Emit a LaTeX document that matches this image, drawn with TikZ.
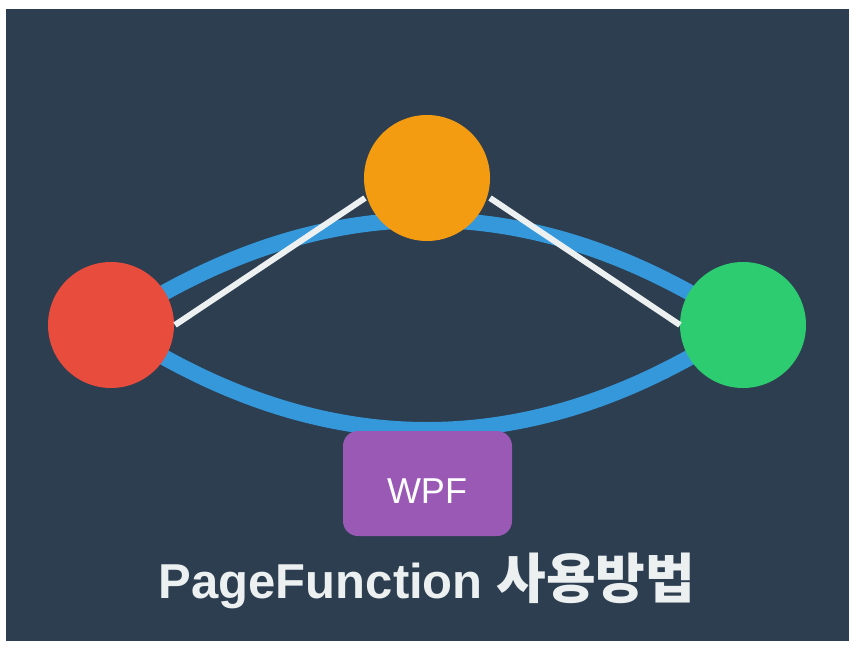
\documentclass[tikz,border=0pt]{standalone}
\usepackage{fontspec}
\setmainfont{Liberation Sans}
\newfontfamily\krfont{Noto Sans CJK KR}
\definecolor{bgdark}{HTML}{2C3E50}
\definecolor{bandblue}{HTML}{3498DB}
\definecolor{nodered}{HTML}{E74C3C}
\definecolor{nodeorange}{HTML}{F39C12}
\definecolor{nodegreen}{HTML}{2ECC71}
\definecolor{boxpurple}{HTML}{9B59B6}
\definecolor{lightline}{HTML}{ECF0F1}
\begin{document}
\begin{tikzpicture}[x=1pt,y=-1pt,
  dot/.style={circle,minimum size=126pt,inner sep=0pt},
  band/.style={draw=bandblue,line width=16pt},
  link/.style={draw=lightline,line width=6pt},
  tag/.style={fill=boxpurple,rounded corners=15pt,minimum width=169pt,minimum height=105pt,inner sep=0pt}]
\useasboundingbox (0,0) rectangle (856,655);
\fill[white] (0,0) rectangle (856,655);
\fill[bgdark] (6,9) rectangle (849,641);
\coordinate (rc) at (111,325);
\coordinate (gc) at (743,325);
\draw[band] (rc) .. controls (321.7,185) and (532.3,185) .. (gc);
\draw[band] (rc) .. controls (321.7,465) and (532.3,465) .. (gc);
\node[dot,fill=nodered] (red) at (rc) {};
\node[dot,fill=nodeorange] (orange) at (427,178) {};
\node[dot,fill=nodegreen] (green) at (gc) {};
\coordinate (l1a) at (175,325);
\coordinate (l1b) at (365,198);
\coordinate (l2a) at (490,198);
\coordinate (l2b) at (680,325);
\draw[link] (l1a) -- (l1b);
\draw[link] (l2a) -- (l2b);
\node[tag] (wpf) at (427.5,483.5) {};
\node[text=white,font=\fontsize{36}{40}\selectfont,anchor=base,inner sep=0pt] (wpflabel) at (427,503) {WPF};
\node[text=lightline,font=\bfseries\fontsize{49}{54}\selectfont,anchor=base,inner sep=0pt] (title) at (427,598) {PageFunction {\krfont\bfseries\fontsize{54}{58}\selectfont 사용방법}};
\end{tikzpicture}
\end{document}
